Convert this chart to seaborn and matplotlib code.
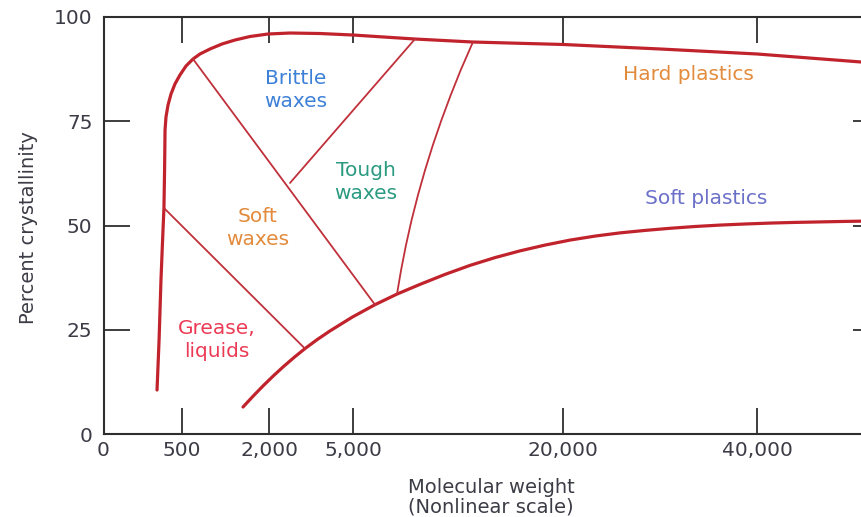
import numpy as np
import pandas as pd
import matplotlib
matplotlib.use("Agg")
import matplotlib.pyplot as plt
import seaborn as sns

# ---------------- data ----------------
x_ticks = [0, 500, 2000, 5000, 20000, 40000]
x_tick_labels = ["0", "500", "2,000", "5,000", "20,000", "40,000"]
y_ticks = [0, 25, 50, 75, 100]

# upper boundary (hard plastics / waxes envelope)
upper_mw = [341, 354, 366, 379, 385, 389, 392, 398, 411, 430, 455, 487, 569,
            690, 810, 983, 1190, 1414, 1672, 1983, 2750, 3821, 5000, 9427,
            13568, 20000, 30001, 40002, 50724, 52477]
upper_pct = [10.55, 22.54, 36.93, 48.92, 54.20, 63.31, 72.90, 76.02, 78.90,
             81.53, 83.93, 86.09, 88.25, 89.93, 91.13, 92.33, 93.53, 94.48,
             95.32, 95.92, 96.16, 96.04, 95.68, 94.72, 94.00, 93.41, 92.33,
             91.13, 89.21, 88.85]

# lower boundary (soft plastics)
lower_mw = [1552, 1724, 1897, 2143, 2500, 2893, 3285, 3714, 4178, 4964, 6571,
            8142, 9785, 11571, 13354, 15139, 16924, 18709, 20722, 23299,
            25876, 28454, 31031, 33608, 36186, 38763, 41340, 43918, 46495,
            49072, 52477]
lower_pct = [6.47, 9.05, 11.53, 13.86, 16.07, 18.35, 20.48, 22.61, 24.72,
             27.99, 31.01, 33.55, 35.88, 38.27, 40.43, 42.30, 43.91, 45.30,
             46.50, 47.46, 48.23, 48.82, 49.33, 49.76, 50.10, 50.36, 50.58,
             50.74, 50.86, 50.98, 51.10]

# region dividers
grease_mw = [385, 3285]
grease_pct = [54.2, 20.48]
softwax_mw = [690, 6571]
softwax_pct = [89.93, 31.01]
brittle_mw = [2750, 9427]
brittle_pct = [60.2, 94.72]
tough_mw = [8142, 8434, 8784, 9184, 9641, 10148, 10705, 11319, 11983, 12697,
            13568]
tough_pct = [33.55, 39.3, 45.3, 51.3, 57.3, 63.3, 69.3, 75.3, 81.3, 87.3,
             94.0]

labels = ["Brittle\nwaxes", "Tough\nwaxes", "Soft\nwaxes", "Grease,\nliquids",
          "Hard plastics", "Soft plastics"]
label_mw = [2964, 5928, 1810, 1103, 32888, 34743]
label_pct = [82.5, 60.4, 49.4, 22.5, 86.1, 56.4]
label_colors = ["#3d80d8", "#2a9a80", "#e38b3c", "#ec3a55", "#e38b3c", "#6b70c9"]

# ------------- nonlinear axis mapping (layout) -------------
_brk_mw = np.array([0, 500, 2000, 5000, 20000, 40000, 60000], dtype=float)
_brk_pos = np.array([0, 78.5, 165.5, 249.5, 459.5, 653.5, 847.5])


def fwd(x):
    return np.interp(np.asarray(x, dtype=float), _brk_mw, _brk_pos)


def inv(p):
    return np.interp(np.asarray(p, dtype=float), _brk_pos, _brk_mw)


# ---------------- plot ----------------
sns.set_theme(style="white")
plt.rcParams["font.family"] = ["DejaVu Sans"]

W, H = 861, 517
fig = plt.figure(figsize=(W / 100, H / 100), dpi=100)
left_px, right_px, top_px, bot_px = 103.5, 879, 17, 434
ax = fig.add_axes([left_px / W, (H - bot_px) / H,
                   (right_px - left_px) / W, (bot_px - top_px) / H])
ax.set_xscale("function", functions=(fwd, inv))

thick = "#c1232c"
thin = "#c0303a"

sns.lineplot(x=upper_mw, y=upper_pct, sort=False, estimator=None, ax=ax,
             color=thick, lw=2.3)
sns.lineplot(x=lower_mw, y=lower_pct, sort=False, estimator=None, ax=ax,
             color=thick, lw=2.3)
for xs, ys in [(grease_mw, grease_pct), (softwax_mw, softwax_pct),
               (brittle_mw, brittle_pct), (tough_mw, tough_pct)]:
    sns.lineplot(x=xs, y=ys, sort=False, estimator=None, ax=ax,
                 color=thin, lw=1.3)

for t, xm, yp, c in zip(labels, label_mw, label_pct, label_colors):
    ax.text(xm, yp, t, color=c, fontsize=14.5, ha="center", va="center",
            linespacing=1.3)

ax.set_xlim(0, inv(right_px - left_px))
ax.set_ylim(0, 100)
ax.set_xticks(x_ticks)
ax.set_xticklabels(x_tick_labels)
ax.set_yticks(y_ticks)
ax.set_xlabel("")
ax.set_ylabel("")
ax.minorticks_off()

txt_col = "#3c3c46"
ax.tick_params(axis="both", which="major", direction="in", length=19,
               width=1.3, color="#2e2e2e", labelsize=14.5, labelcolor=txt_col,
               top=True, right=True, bottom=True, left=True)
ax.tick_params(axis="y", pad=8)
ax.tick_params(axis="x", pad=5)
for s in ax.spines.values():
    s.set_color("#2e2e2e")
    s.set_linewidth(1.5)
    s.set_visible(True)

fig.text(28 / W, 1 - 228 / H, "Percent crystallinity", rotation=90,
         ha="center", va="center", fontsize=14, color=txt_col)
fig.text(491 / W, 1 - 497 / H, "Molecular weight\n(Nonlinear scale)",
         ha="center", va="center", fontsize=14, color=txt_col, linespacing=1.05)

fig.savefig("out.png", dpi=100)
